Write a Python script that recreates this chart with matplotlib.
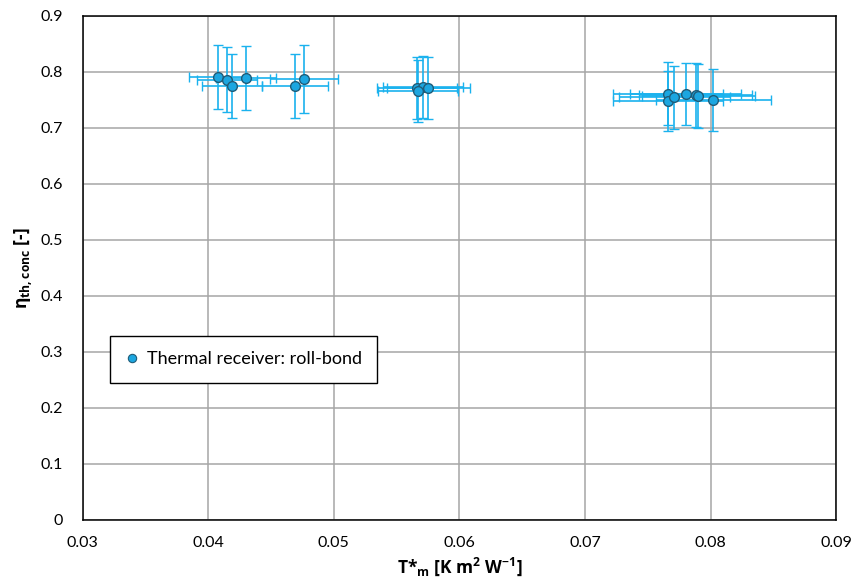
import matplotlib
matplotlib.use("Agg")
import matplotlib.pyplot as plt
from matplotlib.lines import Line2D

# Data
t_m = [0.0408, 0.0415, 0.0419, 0.0430, 0.0469, 0.0476,
       0.0566, 0.0571, 0.0567, 0.0575,
       0.0766, 0.0766, 0.0771, 0.0780, 0.0788, 0.0790, 0.0802]
eta = [0.791, 0.786, 0.775, 0.789, 0.774, 0.787,
       0.771, 0.773, 0.765, 0.771,
       0.761, 0.748, 0.754, 0.760, 0.758, 0.757, 0.749]
t_err = [0.0023, 0.0024, 0.0024, 0.0024, 0.0026, 0.0027,
         0.0032, 0.0032, 0.0032, 0.0033,
         0.0044, 0.0044, 0.0044, 0.0044, 0.0045, 0.0045, 0.0046]
eta_err = [0.057, 0.058, 0.057, 0.057, 0.057, 0.061,
           0.055, 0.055, 0.055, 0.055,
           0.056, 0.054, 0.057, 0.056, 0.057, 0.057, 0.055]

x_ticks = [0.03, 0.04, 0.05, 0.06, 0.07, 0.08, 0.09]
x_ticklabels = ["0.03", "0.04", "0.05", "0.06", "0.07", "0.08", "0.09"]
y_ticks = [0, 0.1, 0.2, 0.3, 0.4, 0.5, 0.6, 0.7, 0.8, 0.9]
y_ticklabels = ["0", "0.1", "0.2", "0.3", "0.4", "0.5", "0.6", "0.7", "0.8", "0.9"]
series_label = "Thermal receiver: roll-bond"

plt.rcParams['font.family'] = ['Lato', 'DejaVu Sans']
plt.rcParams['mathtext.fontset'] = 'custom'
plt.rcParams['mathtext.rm'] = 'Open Sans:bold'
plt.rcParams['mathtext.bf'] = 'Open Sans:bold'
plt.rcParams['mathtext.it'] = 'Open Sans:bold'
plt.rcParams['mathtext.sf'] = 'Open Sans:bold'

fig = plt.figure(figsize=(8.55, 5.83), dpi=100)
ax = fig.add_axes([0.0965, 0.1086, 0.8818, 0.8645])

ax.errorbar(t_m, eta, xerr=t_err, yerr=eta_err, fmt='o',
            color='#1CA6E0', mfc='#1CA6E0', mec='#1F5C78', mew=1.0, ms=7,
            ecolor='#1AB2EE', elinewidth=1.2, capsize=3.5, capthick=1.2,
            zorder=3)

ax.set_xlim(0.03, 0.09)
ax.set_ylim(0, 0.9)
ax.set_xticks(x_ticks)
ax.set_xticklabels(x_ticklabels)
ax.set_yticks(y_ticks)
ax.set_yticklabels(y_ticklabels)
ax.tick_params(length=0, labelsize=11.5)
ax.tick_params(axis='x', pad=12)
ax.tick_params(axis='y', pad=14)
ax.grid(True, color='#A6A6A6', linewidth=1.1)
ax.set_axisbelow(True)
for s in ax.spines.values():
    s.set_color('black')
    s.set_linewidth(1.1)

lab_font = dict(family=['Open Sans', 'DejaVu Sans'], weight='bold', size=12.5)
ax.set_xlabel(r"T*$_{\mathrm{m}}$ [K m$^{\mathrm{2}}$ W$^{\mathrm{-1}}$]", fontdict=lab_font, labelpad=4)
ax.set_ylabel(r"$\mathrm{\eta}_{\mathrm{th,conc}}$ [-]", fontdict=lab_font, labelpad=4)

proxy = Line2D([], [], ls='none', marker='o', ms=6, mfc='#1CA6E0', mec='#1F5C78', mew=0.8)
leg = ax.legend([proxy], [series_label], loc='lower left', bbox_to_anchor=(0.036, 0.272),
                fancybox=False, framealpha=1, edgecolor='black', fontsize=13,
                handlelength=0.8, handletextpad=0.4, borderpad=0.85, borderaxespad=0)
leg.get_frame().set_linewidth(1.0)

fig.savefig("out.png", dpi=100)
